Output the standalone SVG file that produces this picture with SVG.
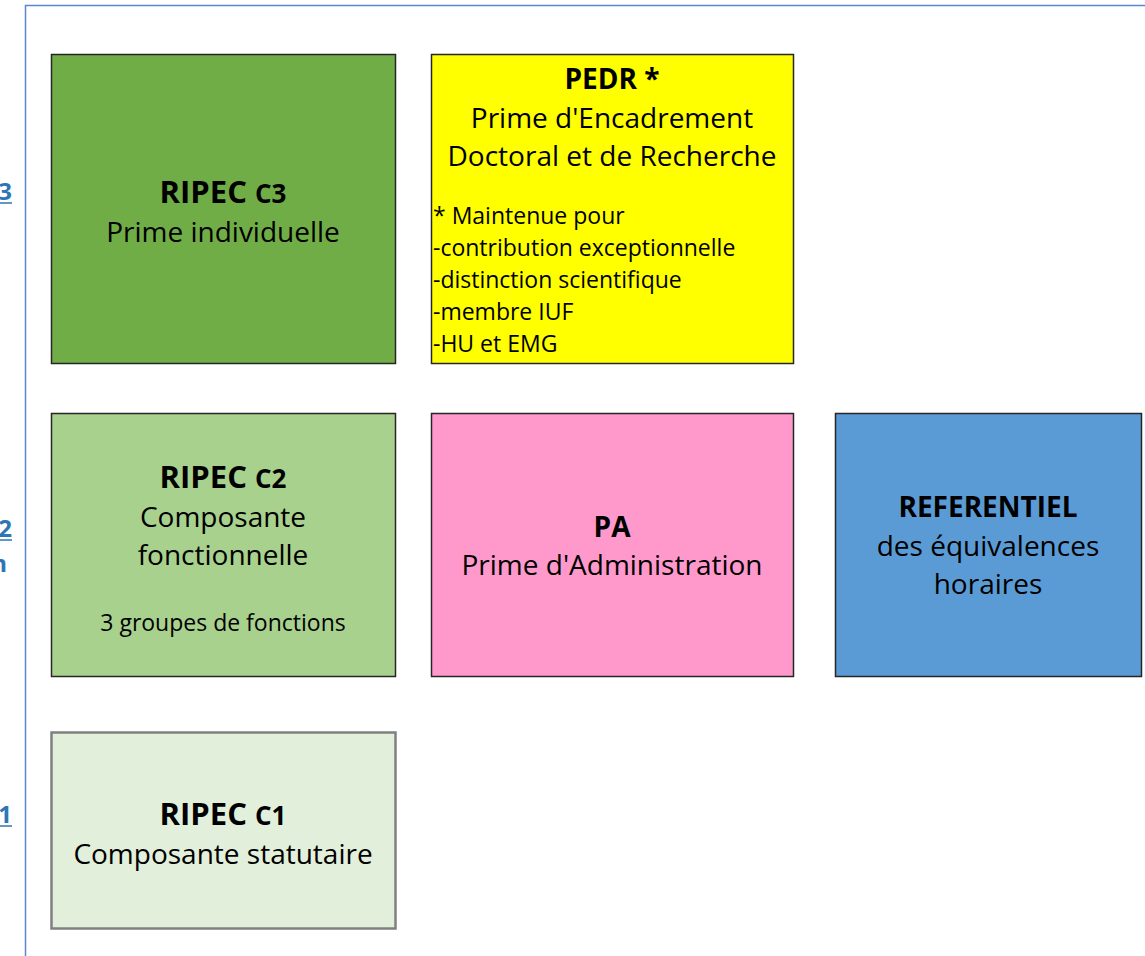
<svg xmlns="http://www.w3.org/2000/svg" width="1145" height="956" viewBox="0 0 1145 956">
<style>
text{font-family:"Open Sans","Noto Sans","Liberation Sans",sans-serif;fill:#000}
.t{font-size:28px;text-anchor:middle}
.b{font-weight:bold}
.s{font-size:23px}
.r{font-size:31px;font-weight:bold;text-anchor:middle}
.lab{font-size:24px;font-weight:bold;fill:#2E75B6;text-anchor:end}
.box{stroke:#262626;stroke-width:1.5}
</style>
<rect width="1145" height="956" fill="#fff"/>
<g id="frame">
<path d="M25.5 956V5.5H1145" fill="none" stroke="#5B87D0" stroke-width="1.5"/>
</g>
<g id="labels">
<text class="lab" x="12" y="200">3</text>
<line x1="0" y1="203" x2="12" y2="203" stroke="#2E75B6" stroke-width="1.5"/>
<text class="lab" x="12" y="537">2</text>
<line x1="0" y1="540" x2="12" y2="540" stroke="#2E75B6" stroke-width="1.5"/>
<text class="lab" x="7" y="572">n</text>
<text class="lab" x="12" y="823">1</text>
<line x1="0" y1="826" x2="12" y2="826" stroke="#2E75B6" stroke-width="1.5"/>
</g>
<g id="connectors"></g>
<g id="c3">
<rect class="box" x="51.5" y="54.5" width="344" height="309" fill="#70AD47"/>
<text class="r" x="223" y="203">RIPEC <tspan font-size="26">C3</tspan></text>
<text class="t" x="223" y="242">Prime individuelle</text>
</g>
<g id="pedr">
<rect class="box" x="431.5" y="54.5" width="362" height="309" fill="#FFFF00"/>
<text class="t b" x="612" y="89" font-size="27">PEDR *</text>
<text class="t" x="612" y="128">Prime d'Encadrement</text>
<text class="t" x="612" y="166">Doctoral et de Recherche</text>
<text class="s" x="433" y="224">* Maintenue pour</text>
<text class="s" x="433" y="256">-contribution exceptionnelle</text>
<text class="s" x="433" y="288">-distinction scientifique</text>
<text class="s" x="433" y="320">-membre IUF</text>
<text class="s" x="433" y="352">-HU et EMG</text>
</g>
<g id="c2">
<rect class="box" x="51.5" y="413.5" width="344" height="263" fill="#A9D18E"/>
<text class="r" x="223" y="488">RIPEC <tspan font-size="26">C2</tspan></text>
<text class="t" x="223" y="527">Composante</text>
<text class="t" x="223" y="565">fonctionnelle</text>
<text class="t s" x="223" y="631">3 groupes de fonctions</text>
</g>
<g id="pa">
<rect class="box" x="431.5" y="413.5" width="362" height="263" fill="#FF99CC"/>
<text class="t b" x="612" y="537" font-size="26">PA</text>
<text class="t" x="612" y="575">Prime d'Administration</text>
</g>
<g id="ref">
<rect class="box" x="835.5" y="413.5" width="306" height="263" fill="#5B9BD5"/>
<text class="t b" x="988" y="517" font-size="25">REFERENTIEL</text>
<text class="t" x="988" y="556">des équivalences</text>
<text class="t" x="988" y="594">horaires</text>
</g>
<g id="c1">
<rect x="51.5" y="732.5" width="344" height="196" fill="#E2EFDA" stroke="#808080" stroke-width="2.5"/>
<text class="r" x="223" y="825">RIPEC <tspan font-size="26">C1</tspan></text>
<text class="t" x="223" y="864">Composante statutaire</text>
</g>
</svg>
